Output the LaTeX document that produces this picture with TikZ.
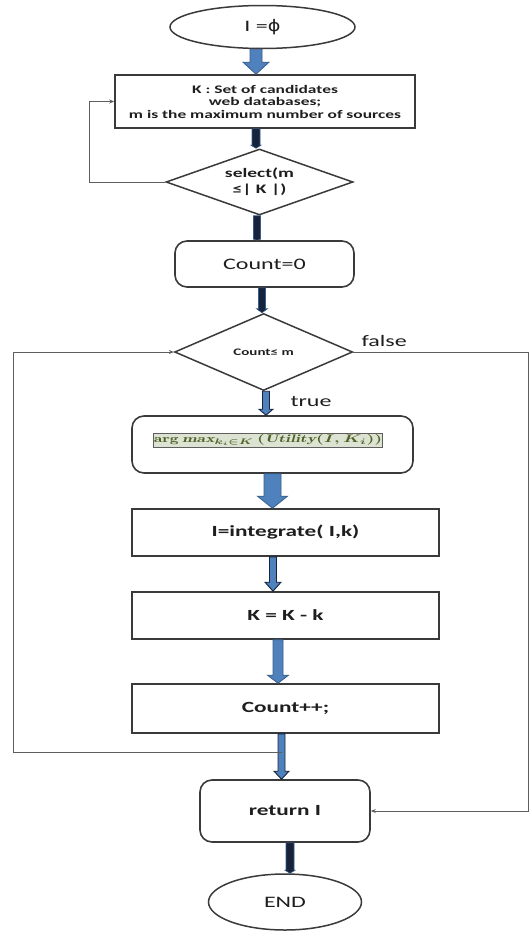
\documentclass[tikz,border=0pt]{standalone}
\usepackage{fontspec}
\usepackage{graphicx}
\usetikzlibrary{shapes.geometric,calc,arrows.meta}
\newfontfamily\flowfont{Carlito}[FakeStretch=1.5]
\newfontfamily\greekfont{DejaVu Sans}[FakeStretch=1.2]
\definecolor{edgegray}{HTML}{3A3A3A}
\definecolor{linegray}{HTML}{5E5E5E}
\definecolor{textdark}{HTML}{1E1E1E}
\definecolor{arrowblue}{HTML}{4F81BD}
\definecolor{arrowedge}{HTML}{385D8A}
\definecolor{navy}{HTML}{17233B}
\definecolor{markgreen}{HTML}{DDE3D2}
\definecolor{mathgreen}{HTML}{4F6228}

% block arrow: from, to, half shaft, half head, head length
\newcommand{\fatarrow}[6][bigarrow]{%
  \path[#1] let \p1=(#2), \p2=(#3) in
    (\x1-#4pt,\y1) -- (\x1+#4pt,\y1) -- (\x1+#4pt,\y2+#6pt)
    -- (\x1+#5pt,\y2+#6pt) -- (\x1,\y2) -- (\x1-#5pt,\y2+#6pt)
    -- (\x1-#4pt,\y2+#6pt) -- cycle;}

\tikzset{
  box/.style={draw=edgegray, line width=1.6pt, rectangle, inner sep=0pt,
    text=textdark, font=\flowfont\bfseries\fontsize{15.5}{18}\selectfont},
  rbox/.style={box, rounded corners=12pt},
  oval/.style={draw=edgegray, line width=1.5pt, ellipse, inner sep=0pt,
    text=textdark, font=\flowfont\fontsize{16}{18}\selectfont},
  choice/.style={draw=edgegray, line width=1.5pt, diamond, inner sep=0pt,
    text=textdark, align=center},
  loopline/.style={draw=linegray, line width=0.9pt},
  looparrow/.style={loopline, -{Stealth[length=5pt,width=4pt]}},
  bigarrow/.style={fill=arrowblue, draw=arrowedge, line width=0.8pt},
  thinarrow/.style={fill=arrowblue, draw=navy, line width=0.9pt},
  darkarrow/.style={fill=navy, draw=arrowedge, line width=0.6pt},
  tag/.style={text=textdark, font=\flowfont\fontsize{16}{18}\selectfont}
}

\begin{document}
\begin{tikzpicture}[x=1pt,y=-1pt]
 \useasboundingbox (0,0) rectangle (532,932);

 %start and candidate set
 \node[oval, minimum width=185pt, minimum height=43pt] (start) at (262.5,27) {I ={\greekfont ϕ}};
 \node[box, minimum width=300pt, minimum height=53pt, align=center,
   font=\flowfont\bfseries\fontsize{11.6}{12.5}\selectfont] (kset) at (265,101.5)
   {K : Set of candidates\\web databases;\\m is the maximum number of sources};
 \node[choice, aspect=2.8, minimum width=187pt, minimum height=66pt,
   font=\flowfont\bfseries\fontsize{13}{16}\selectfont] (select) at (259.5,182)
   {select(m\\≤| K |)};

 %counter and test
 \node[rbox, minimum width=179pt, minimum height=46pt,
   font=\flowfont\fontsize{16}{18}\selectfont] (count0) at (264.5,264) {Count=0};
 \node[choice, aspect=2.3, minimum width=178pt, minimum height=77pt,
   font=\flowfont\bfseries\fontsize{10}{12}\selectfont] (test) at (263.6,352) {Count≤ m};

 %loop body
 \node[rbox, minimum width=281pt, minimum height=57pt] (argmax) at (272.5,444.5) {};
 \node[draw=linegray, line width=0.8pt, fill=markgreen, text=mathgreen,
   minimum width=208pt, minimum height=14pt, inner sep=0pt] (argtext) at (268,440)
   {\scalebox{1.6}[1]{\boldmath\fontsize{11}{12}\selectfont
     $\mathrm{arg}\,\mathit{max}_{k_i\in K}\,(\mathit{Utility}(I,K_i))$}};
 \node[box, minimum width=307pt, minimum height=47pt] (integ) at (285.5,532.5) {I=integrate( I,k)};
 \node[box, minimum width=307pt, minimum height=47pt] (remove) at (285.5,615.5) {K = K - k};
 \node[box, minimum width=307pt, minimum height=49pt] (incr) at (285.5,708.5) {Count++;};

 %end
 \node[rbox, minimum width=170pt, minimum height=62pt] (ret) at (285,811) {return I};
 \node[oval, minimum width=153pt, minimum height=56pt] (end) at (285,902) {END};

 %main arrows
 \fatarrow{[xshift=-6.5pt]start.south}{kset.north}{6}{13}{12}
 \fatarrow[darkarrow]{[xshift=-9pt]kset.south}{select.north}{4}{5}{3}
 \fatarrow[darkarrow]{[xshift=-2.5pt]select.south}{count0.north}{3.5}{3.5}{1}
 \fatarrow[darkarrow]{[xshift=-2.5pt]count0.south}{test.north}{3.5}{5.5}{4}
 \fatarrow[thinarrow]{[xshift=2.4pt]test.south}{argmax.north}{3.5}{7}{6}
 \fatarrow{argmax.south}{integ.north}{8.5}{15}{12}
 \fatarrow[thinarrow]{[xshift=-12.5pt]integ.south}{remove.north}{3.5}{8}{9}
 \fatarrow{[xshift=-7.5pt]remove.south}{incr.north}{5}{10.5}{8}
 \fatarrow[thinarrow]{[xshift=-4pt]incr.south}{ret.north}{3.5}{7.5}{8}
 \fatarrow[darkarrow]{[xshift=5pt]ret.south}{end.north}{4}{5}{3}

 %loops
 \draw[looparrow] (select.west) -- ++(-76,0) |- (kset.west);
 \coordinate (join) at (281.5,752);
 \draw[looparrow] (join) -- (13.5,752) |- (test.west);
 \draw[looparrow] (test.east) -- (528,352) |- (ret.east);
 \node[tag, anchor=base west] (false) at (358,346) {false};
 \node[tag, anchor=base west] (true) at (287,406) {true};
\end{tikzpicture}
\end{document}
